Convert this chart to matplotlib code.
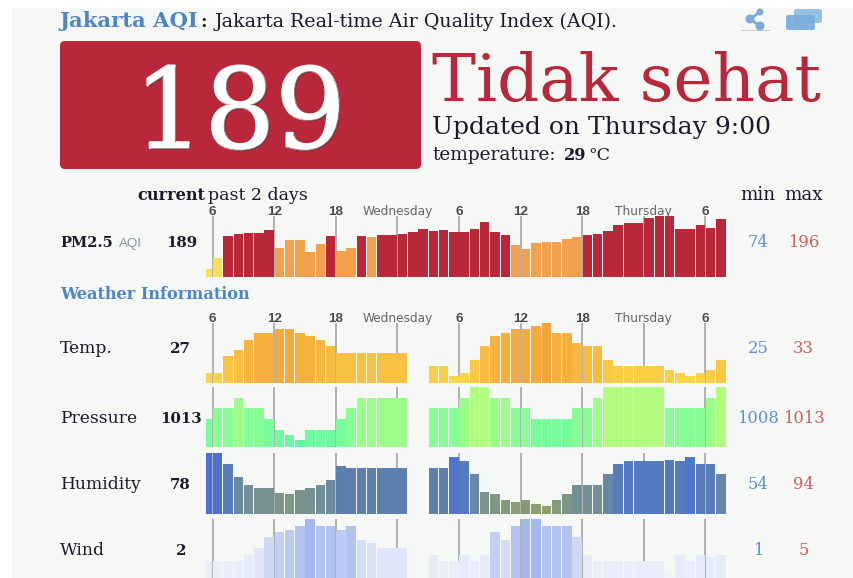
import numpy as np
import matplotlib
matplotlib.use("Agg")
import matplotlib.pyplot as plt
from matplotlib import patheffects
from matplotlib.colors import LinearSegmentedColormap, Normalize
from matplotlib.patches import Circle, FancyBboxPatch, Rectangle

W, H = 854, 578
SERIF = "DejaVu Serif"
SANS = "Liberation Sans"
RED = "#b8273a"
BLUE = "#4d85c5"
MINC = "#5c90d2"
MAXC = "#cc5f5c"
X0, X1 = 206, 726  # bar area in pixels

n = None
pm25 = [74, 99, 151, 156, 157, 157, 165, 124, 142, 141, 114, 133, 150, 116, 123, 150, 149,
        153, 153, 156, 159, 168, 163, 165, 161, 160, 168, 184, 160, 153, 131, 121, 135, 138,
        136, 145, 148, 153, 156, 163, 177, 181, 181, 192, 196, 196, 167, 167, 177, 170, 189]
temp = [25.5, 25.5, 28, 29, 30.5, 31.5, 31.5, 32, 32, 31.5, 31, 30.5, 29.5, 28.5, 28.5, 28.5,
        28.5, 28.5, 28.5, 28.5, n, n, 26.5, 26.5, 25, 25.5, 27.5, 29.5, 31, 31.5, 32, 32, 32.5,
        33, 31.5, 31.5, 30, 29.5, 29.5, 27.5, 26.5, 26.5, 26.5, 26.5, 26.5, 26, 25.5, 25, 25.5,
        26, 27.5]
pressure = [1010, 1011, 1011, 1012, 1011, 1011, 1010, 1009, 1008.5, 1008, 1009, 1009, 1009,
            1010, 1011, 1012, 1012, 1012, 1012, 1012, n, n, 1011, 1011, 1011, 1012, 1013, 1013,
            1012, 1012, 1011, 1011, 1010, 1010, 1010, 1010, 1011, 1011, 1012, 1013, 1013, 1013,
            1013, 1013, 1013, 1011, 1011, 1011, 1011, 1012, 1013]
humidity = [94, 94, 86, 76, 70, 68, 68, 64, 63, 66, 68, 70, 74, 84, 83, 83, 83, 83, 83, 83, n, n,
            83, 83, 91, 88, 78, 65, 63, 59, 57, 59, 56, 54, 59, 63, 70, 70, 70, 78, 86, 88,
            88, 88, 88, 89, 88, 91, 86, 86, 78]
wind = [1.8, 1.8, 1.8, 1.8, 2.3, 2.8, 3.6, 4, 4.2, 4.5, 5, 4.5, 4.5, 4.2, 4.5, 3.4, 3.2, 2.8,
        2.8, 2.8, n, n, 2.3, 1.8, 1.8, 2.3, 1.8, 2.3, 4, 3.4, 4.5, 5, 5, 4.5, 4.5, 4.5, 3.6,
        2.3, 1.8, 1.8, 1.8, 1.8, 1.8, 1.8, 1.8, 1, 2.3, 1.8, 2.3, 2.1, 2.3]

tick_idx = [0.5, 6.5, 12.5, 18.5, 24.5, 30.5, 36.5, 42.5, 48.5]
tick_labels = ["6", "12", "18", "Wednesday", "6", "12", "18", "Thursday", "6"]

row_labels = ["Temp.", "Pressure", "Humidity", "Wind"]
row_current = ["27", "1013", "78", "2"]
row_min = ["25", "1008", "54", "1"]
row_max = ["33", "1013", "94", "5"]
row_base = [353, 423, 489, 555]
row_cur_x = [191, 202, 191, 186]


def pm_color(v):
    if v < 100:
        return "#fede57"
    if v < 150:
        return "#f2a04c"
    return RED


def add_row(top, values, colors, vmin, vmax, merged, labels=False):
    # one strip of bars, 60.5 px high, placed by pixel position
    h = 60.5
    ax = fig.add_axes([X0 / W, 1 - (top + h) / H, (X1 - X0) / W, h / H])
    ax.set_xlim(-0.14, 50.5)
    ax.set_ylim(vmin, vmax)
    ax.axis("off")
    ax.vlines(tick_idx, vmin, vmax, color="#9c9c9c", lw=1.1, zorder=1)
    vals = np.array(values, dtype=float)
    widths = np.full(len(vals), 0.92)
    for i in merged:
        widths[i] = 1.0
    ax.bar(np.arange(len(vals)) - 0.46, vals - vmin, width=widths, bottom=vmin,
           align="edge", color=colors, zorder=2, linewidth=0)
    if labels:
        for t, s in zip(tick_idx, tick_labels):
            long = len(s) > 2
            ax.annotate(s, (t, 1), xycoords=("data", "axes fraction"), xytext=(0, 0.8),
                        textcoords="offset points", ha="center", va="baseline",
                        fontsize=8.7 if long else 9.6,
                        family="DejaVu Sans" if long else SANS,
                        color="#666666" if long else "#4a4a4a",
                        fontweight="normal" if long else "bold")
    return ax


def ramp(colors, vmin, vmax, values):
    cmap = LinearSegmentedColormap.from_list("r", colors)
    norm = Normalize(vmin, vmax)
    return [cmap(norm(v)) if v is not None else "none" for v in values]


fig = plt.figure(figsize=(W / 100, H / 100), dpi=100, facecolor="white")
bg = fig.add_axes([0, 0, 1, 1])
bg.set_xlim(0, W)
bg.set_ylim(H, 0)
bg.axis("off")
bg.add_patch(Rectangle((12, 8), W - 12, H - 8, color="#f5f8f5", lw=0))
bg.add_patch(FancyBboxPatch((64, 45), 353, 120, boxstyle="round,pad=4,rounding_size=5",
                            fc=RED, ec="none"))


def txt(x, y, s, size, color="#1a1a2a", ha="left", weight="normal", family=SERIF, va="baseline"):
    return bg.text(x, y, s, fontsize=size, color=color, ha=ha, va=va, fontweight=weight,
                   family=family)


# header
txt(60, 27, "Jakarta AQI", 15.2, BLUE, weight="bold")
txt(200.5, 27, ":", 13, "#222222", weight="bold")
txt(215, 27, "Jakarta Real-time Air Quality Index (AQI).", 13.7)

big = txt(240, 148, "189", 80, "white", ha="center")
big.set_path_effects([patheffects.withStroke(linewidth=1.5, foreground="white"),
                      patheffects.withSimplePatchShadow(offset=(1, -1), shadow_rgbFace="#222222",
                                                        alpha=0.5), patheffects.Normal()])
txt(432, 101, "Tidak sehat", 47.5, RED)
txt(432, 134, "Updated on Thursday 9:00", 18)
txt(432, 160.5, "temperature:", 13.3)
txt(564, 160.5, "29", 11.6, weight="bold")
txt(588, 160.5, "°C", 12.6)

# icons
ic = "#7dabd3"
bg.add_patch(Rectangle((741, 29.5), 29, 1.5, color="#c8cccc", lw=0))
bg.plot([760, 750, 760], [12, 19, 26], color=ic, lw=2)
for cx, cy, r in [(760, 12, 3.5), (750, 19, 4.5), (760, 26, 4.5)]:
    bg.add_patch(Circle((cx, cy), r, color=ic, lw=0))
bg.add_patch(FancyBboxPatch((794, 9), 28, 14, boxstyle="round,pad=0,rounding_size=2.5",
                            fc="#97bfe1", ec="none"))
bg.add_patch(FancyBboxPatch((786, 15), 29, 15, boxstyle="round,pad=0,rounding_size=2.5",
                            fc="#79aedb", ec="none", alpha=0.95))

# column headers
txt(137, 200, "current", 11.6, weight="bold")
txt(208, 200, "past 2 days", 12.5)
txt(740, 200, "min", 13.2)
txt(784, 200, "max", 13.2)

# pm row text
txt(60, 247, "PM2.5", 10.5, weight="bold")
txt(119, 247, "AQI", 9.6, "#8a93a3", family=SANS)
txt(197, 247, "189", 10.8, ha="right", weight="bold")
txt(758.5, 247, "74", 11.8, MINC, ha="center")
txt(804, 247, "196", 11.8, MAXC, ha="center")
txt(60, 299, "Weather Information", 11.65, BLUE, weight="bold")

for lab, cur, lo, hi, y, cx in zip(row_labels, row_current, row_min, row_max, row_base, row_cur_x):
    txt(60, y, lab, 12.3)
    txt(cx, y, cur, 10.8, ha="right", weight="bold")
    txt(758.5, y, lo, 11.8, MINC, ha="center")
    txt(803.5, y, hi, 11.8, MAXC, ha="center")

pm_merge = [17, 41]
wx_merge = [17, 18, 42, 43]
add_row(216.2, pm25, [pm_color(v) for v in pm25], 57, 196.5, pm_merge, labels=True)
add_row(322.7, temp, ramp(["#fdd648", "#f2a63a"], 25, 33, temp), 24, 33, wx_merge, labels=True)
add_row(386.8, pressure, ramp(["#66f5a4", "#7cff9c", "#b2fc80"], 1008, 1013, pressure),
        1007.35, 1013, wx_merge)
add_row(453, humidity, ramp(["#8ea06a", "#7d9488", "#6e8c9e", "#5b7fb0", "#4a72d4"], 54, 94, humidity),
        48.7, 94, wx_merge)
add_row(519, wind, ramp(["#f0f3fc", "#dfe6f8", "#a3b8ec"], 1, 5, wind), 0.42, 5, wx_merge)

fig.savefig("out.png", dpi=100, facecolor="white")
